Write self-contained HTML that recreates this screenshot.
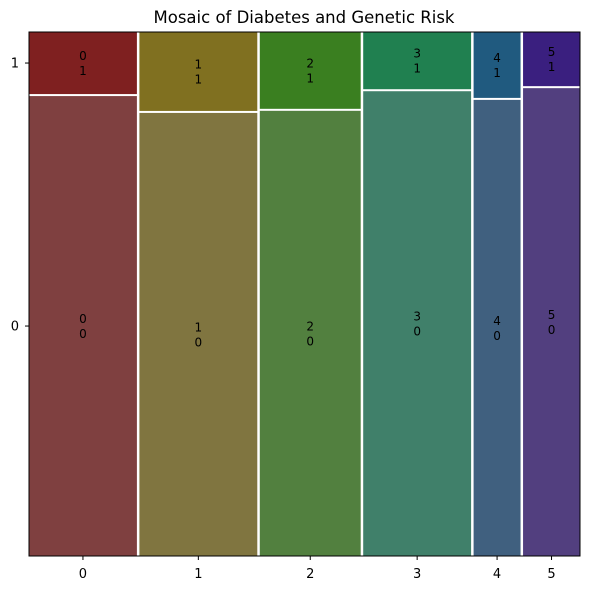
<!DOCTYPE html>
<html><head><meta charset="utf-8"><style>
body{margin:0;background:#fff;}
svg{font-family:"DejaVu Sans","Liberation Sans",sans-serif;}
</style></head><body>
<svg id="chart" width="590" height="590">
<text x="304" y="23" text-anchor="middle" font-size="16.5">Mosaic of Diabetes and Genetic Risk</text>
<g id="tiles"></g>
<rect x="29" y="32" width="551" height="524" fill="none" stroke="#000" stroke-width="1"/>
<g id="axes"></g>
</svg>
<script>
const categories = ["0","1","2","3","4","5"];
const countsNo = [95,100,86,96,41,51];
const countsYes = [13,18,15,12,6,6];
const yLabels = ["0","1"];
const topColors = ["#7f2020","#807020","#3a7f20","#208050","#205a7f","#3a1f7f"];
const botColors = ["#7f4040","#807540","#52803f","#40806a","#40607f","#523f7f"];

const NS="http://www.w3.org/2000/svg";
const L=29,R=580,T=32,B=556,G=2.5;
const tiles=document.getElementById('tiles'), axes=document.getElementById('axes');
function mk(tag,attrs,parent){const e=document.createElementNS(NS,tag);for(const k in attrs)e.setAttribute(k,attrs[k]);parent.appendChild(e);return e;}
const totals=countsNo.map((v,i)=>v+countsYes[i]);
const grand=totals.reduce((a,b)=>a+b,0);
const avail=(R-L)-G*(categories.length-1);
function xScale(cum){return L+cum/grand*avail;}
function yScale(frac){return T+frac*(B-T);}
let cum=0;
categories.forEach((c,i)=>{
  const x0=xScale(cum)+G*i, w=totals[i]/grand*avail;
  cum+=totals[i];
  const fy=countsYes[i]/totals[i];
  const ySplit=yScale(fy);
  const r1=mk('rect',{x:x0,y:T,width:w,height:ySplit-T-1,fill:topColors[i]},tiles);
  
  
  const r0=mk('rect',{x:x0,y:ySplit+1,width:w,height:B-ySplit-1,fill:botColors[i]},tiles);
  
  
  const cx=x0+w/2;
  [[T,ySplit-1,'1'],[ySplit+1,B,'0']].forEach(([a,b,lab])=>{
    const cy=(a+b)/2;
    const t=mk('text',{x:cx,y:cy-3,'text-anchor':'middle','font-size':12},tiles);
    
    
    t.textContent=c;
    const t2=mk('text',{x:cx,y:cy+12,'text-anchor':'middle','font-size':12},tiles);
    
    
    t2.textContent=lab;
  });
  mk('line',{x1:cx,x2:cx,y1:B,y2:B+4,stroke:'#000'},axes);
  const xt=mk('text',{x:cx,y:B+22,'text-anchor':'middle','font-size':13},axes);
  
  
  xt.textContent=c;
  if(i===0){
    const yc=[(ySplit+1+B)/2,(T+ySplit-1)/2];
    yLabels.forEach((lab,j)=>{
      mk('line',{x1:L-4,x2:L,y1:yc[j],y2:yc[j],stroke:'#000'},axes);
      const yt=mk('text',{x:L-10,y:yc[j]+4.5,'text-anchor':'end','font-size':13},axes);
      
      
      yt.textContent=lab;
    });
  }
});
</script>
</body></html>
